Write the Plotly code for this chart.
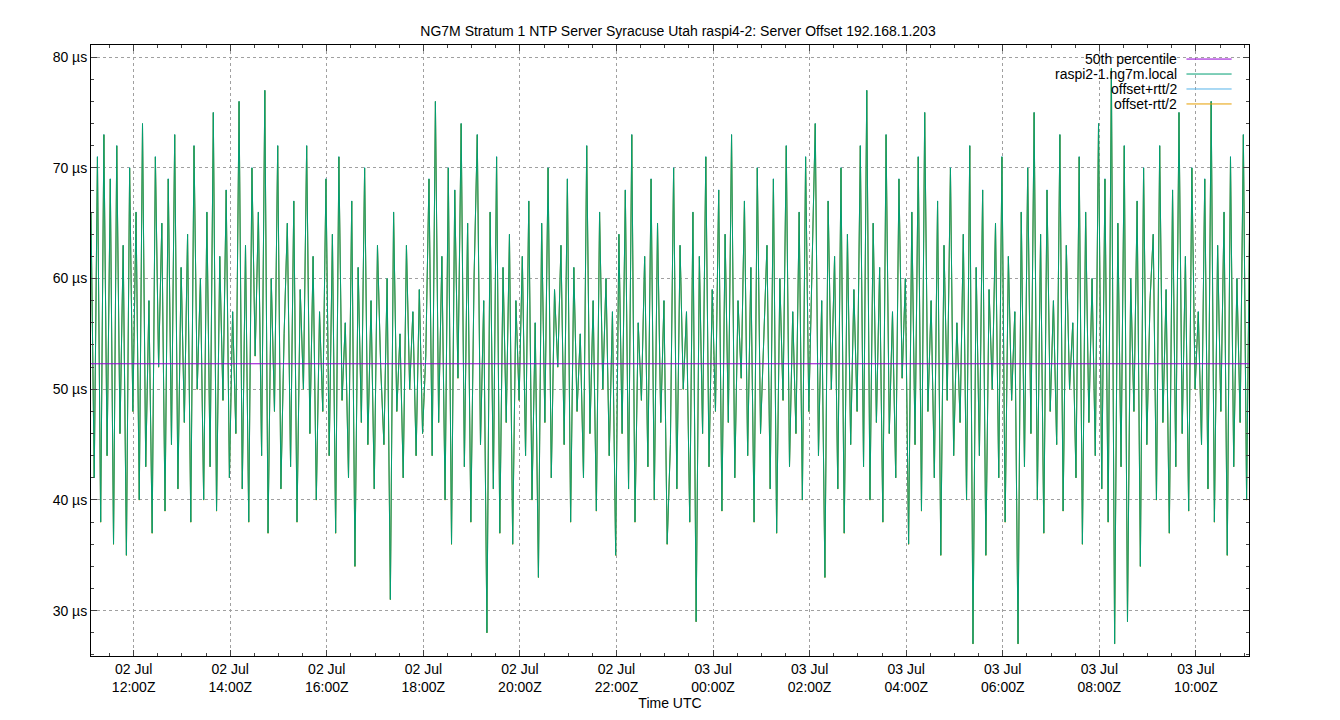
import pandas as pd
import plotly.graph_objects as go

# offset samples, 4 min apart, one row per hour, from 02 Jul 11:07Z
offset_us = [
    66, 42, 71, 38, 73, 44, 69, 36, 72, 46, 63, 35, 70, 48, 66,
    40, 74, 43, 58, 37, 71, 52, 65, 39, 69, 45, 73, 41, 61, 47,
    64, 38, 72, 50, 60, 40, 66, 43, 75, 39, 62, 49, 68, 42, 57,
    46, 76, 41, 63, 38, 70, 53, 66, 44, 77, 37, 60, 48, 72, 41,
    55, 65, 43, 67, 38, 59, 50, 72, 46, 62, 40, 57, 48, 69, 44,
    64, 37, 71, 49, 56, 42, 67, 34, 61, 47, 70, 45, 58, 41, 63,
    52, 45, 60, 31, 66, 48, 55, 42, 63, 50, 57, 44, 59, 46, 53,
    69, 44, 76, 47, 62, 40, 70, 36, 68, 51, 74, 43, 65, 38, 60,
    73, 45, 58, 28, 66, 41, 71, 37, 61, 47, 64, 36, 58, 49, 62,
    44, 67, 40, 56, 33, 65, 47, 70, 42, 59, 52, 63, 45, 69, 38,
    61, 48, 55, 42, 72, 46, 58, 39, 66, 50, 60, 44, 57, 35, 64,
    46, 68, 41, 73, 38, 56, 49, 62, 43, 69, 40, 65, 47, 58, 36,
    45, 70, 41, 63, 50, 57, 38, 66, 29, 62, 46, 71, 43, 59, 48,
    68, 39, 64, 47, 73, 42, 58, 51, 67, 44, 61, 38, 70, 46, 55,
    63, 41, 69, 37, 60, 49, 72, 43, 57, 46, 66, 40, 71, 48, 62,
    74, 44, 58, 33, 67, 50, 62, 41, 70, 37, 64, 45, 59, 48, 72,
    43, 77, 40, 65, 47, 61, 38, 73, 46, 57, 42, 69, 51, 60, 36,
    66, 45, 71, 39, 75, 48, 58, 42, 67, 35, 63, 49, 70, 44, 56,
    47, 64, 40, 72, 27, 61, 44, 68, 35, 59, 50, 65, 42, 71, 38,
    62, 49, 57, 27, 66, 43, 70, 46, 75, 40, 64, 37, 68, 48, 58,
    45, 73, 39, 63, 50, 56, 42, 71, 36, 66, 47, 60, 44, 74, 41,
    69, 38, 79, 27, 65, 43, 72, 29, 60, 48, 67, 34, 70, 45, 58,
    64, 40, 72, 47, 59, 37, 68, 43, 75, 46, 62, 39, 70, 50, 57,
    45, 69, 41, 76, 38, 63, 48, 66, 35, 71, 43, 60, 47, 73, 40,
    67, 44, 59, 36, 72, 49, 62, 33, 68, 41, 74, 46, 58, 27, 65,
    42, 78, 38, 63, 47, 69, 36, 73, 44, 60, 32, 71, 40, 66, 49,
    57, 45, 70, 39, 54,
]
percentile_50 = 52.3
rtt_half = 0.02

series_names = ["50th percentile", "raspi2-1.ng7m.local", "offset+rtt/2", "offset-rtt/2"]
series_colors = ["#9400d3", "#009e73", "#56b4e9", "#e69f00"]

y_ticks = [30, 40, 50, 60, 70, 80]

start = pd.Timestamp("2023-07-02 11:07")
end = pd.Timestamp("2023-07-03 11:06")
times = pd.date_range(start, periods=len(offset_us), freq="4min")
upper = [v + rtt_half for v in offset_us]
lower = [v - rtt_half for v in offset_us]

tick_vals = pd.date_range("2023-07-02 12:00", "2023-07-03 10:00", freq="2h")
tick_text = [t.strftime("%d %b<br>%H:%MZ") for t in tick_vals]

fig = go.Figure()
fig.add_scatter(x=times, y=upper, mode="lines", line=dict(color=series_colors[2], width=1))
fig.add_scatter(x=times, y=lower, mode="lines", line=dict(color=series_colors[3], width=1))
fig.add_scatter(x=times, y=offset_us, mode="lines", line=dict(color=series_colors[1], width=1))
fig.add_scatter(x=[start, end], y=[percentile_50] * 2,
                mode="lines", line=dict(color=series_colors[0], width=1))

# gnuplot-style key: text right-aligned, sample line to the right
for i, (name, color) in enumerate(zip(series_names, series_colors)):
    yk = 0.977 - i * 0.0245
    fig.add_annotation(xref="paper", yref="paper", x=0.9395, y=yk, text=name,
                       showarrow=False, xanchor="right", yanchor="middle",
                       font=dict(size=14))
    fig.add_shape(type="line", xref="paper", yref="paper", x0=0.946, x1=0.985,
                  y0=yk, y1=yk, line=dict(color=color, width=1))

grid = dict(showgrid=True, gridcolor="#a0a0a0", griddash="dot", gridwidth=1,
            showline=True, linecolor="black", mirror="ticks", ticks="inside",
            ticklen=6, zeroline=False, automargin=False)
fig.update_layout(
    width=1340, height=720, plot_bgcolor="white", paper_bgcolor="white",
    font=dict(family="Liberation Sans, Arial", size=14, color="black"),
    margin=dict(l=83, r=99, t=37, b=72),
    showlegend=False,
    title=dict(text="NG7M Stratum 1 NTP Server Syracuse Utah raspi4-2: Server Offset 192.168.1.203",
               x=0.5, xanchor="center", y=0.975, font=dict(size=14)),
    xaxis=dict(grid, range=[start, end],
               tickvals=tick_vals, ticktext=tick_text,
               title=dict(text="Time UTC", standoff=2, font=dict(size=14)),
               minor=dict(dtick=1800000, ticks="inside", ticklen=3, showgrid=False)),
    yaxis=dict(grid, range=[25.9, 81.1], tickvals=y_ticks,
               ticktext=[f"{v} µs" for v in y_ticks],
               minor=dict(dtick=2, ticks="inside", ticklen=3, showgrid=False)),
)
fig.write_html("out.html")
